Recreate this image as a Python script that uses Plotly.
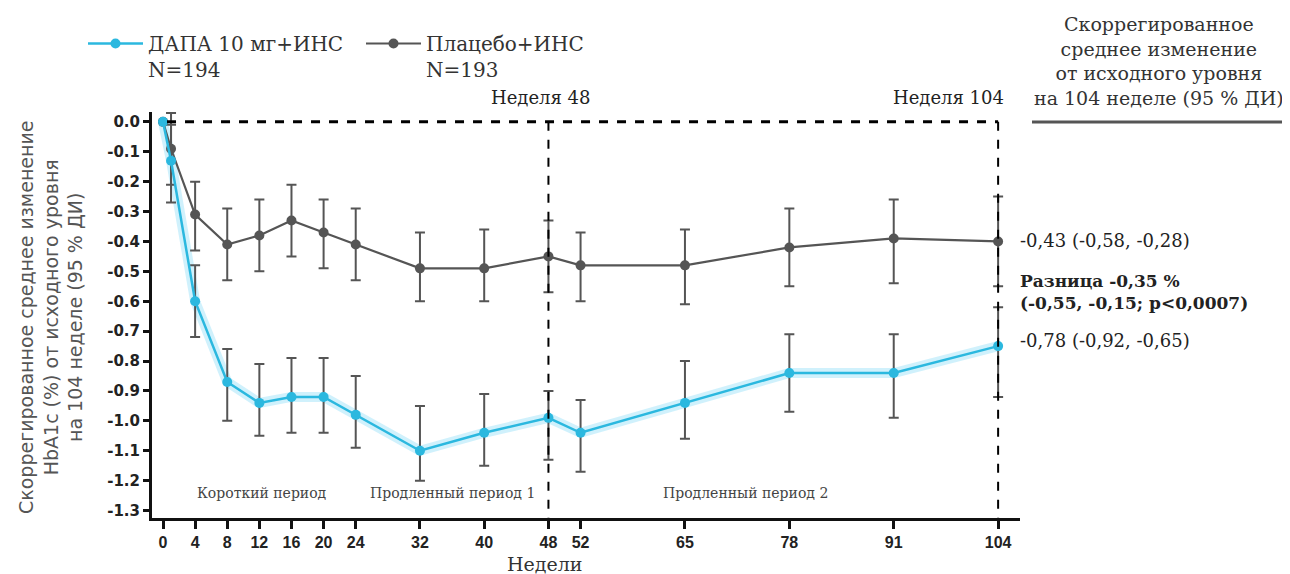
import plotly.graph_objects as go

weeks = [0, 1, 4, 8, 12, 16, 20, 24, 32, 40, 48, 52, 65, 78, 91, 104]
week_ticks = [0, 4, 8, 12, 16, 20, 24, 32, 40, 48, 52, 65, 78, 91, 104]

dapa_mean = [0.0, -0.13, -0.60, -0.87, -0.94, -0.92, -0.92, -0.98, -1.10, -1.04, -0.99, -1.04, -0.94, -0.84, -0.84, -0.75]
dapa_hi = [0.0, -0.01, -0.48, -0.76, -0.81, -0.79, -0.79, -0.85, -0.95, -0.91, -0.90, -0.93, -0.80, -0.71, -0.71, -0.62]
dapa_lo = [0.0, -0.27, -0.72, -1.00, -1.05, -1.04, -1.04, -1.09, -1.20, -1.15, -1.13, -1.17, -1.06, -0.97, -0.99, -0.92]

plac_mean = [0.0, -0.09, -0.31, -0.41, -0.38, -0.33, -0.37, -0.41, -0.49, -0.49, -0.45, -0.48, -0.48, -0.42, -0.39, -0.40]
plac_hi = [0.0, 0.03, -0.20, -0.29, -0.26, -0.21, -0.26, -0.29, -0.37, -0.36, -0.33, -0.37, -0.36, -0.29, -0.26, -0.25]
plac_lo = [0.0, -0.21, -0.43, -0.53, -0.50, -0.45, -0.49, -0.53, -0.60, -0.60, -0.57, -0.60, -0.61, -0.55, -0.54, -0.55]

y_ticks = [0.0, -0.1, -0.2, -0.3, -0.4, -0.5, -0.6, -0.7, -0.8, -0.9, -1.0, -1.1, -1.2, -1.3]
y_ticktext = ["0.0", "-0.1", "-0.2", "-0.3", "-0.4", "-0.5", "-0.6", "-0.7", "-0.8", "-0.9", "-1.0", "-1.1", "-1.2", "-1.3"]

series_names = ["ДАПА 10 мг+ИНС<br>N=194", "Плацебо+ИНС<br>N=193"]
period_labels = ["Короткий период", "Продленный период 1", "Продленный период 2"]
period_x = [12.3, 36.0, 72.5]

CYAN = "#2bb8df"
GRAY = "#555555"
SERIF = "DejaVu Serif"
SANS = "DejaVu Sans"

fig = go.Figure()

# halo behind the dapagliflozin line
fig.add_trace(go.Scatter(x=weeks, y=dapa_mean, mode="lines",
                         line=dict(color="rgba(120,215,245,0.35)", width=10),
                         showlegend=False, hoverinfo="skip"))

fig.add_trace(go.Scatter(
    x=weeks, y=plac_mean, mode="lines+markers", name=series_names[1],
    line=dict(color=GRAY, width=2.2),
    marker=dict(color=GRAY, size=10, symbol="circle"),
    error_y=dict(type="data", symmetric=False,
                 array=[h - m for h, m in zip(plac_hi, plac_mean)],
                 arrayminus=[m - l for m, l in zip(plac_mean, plac_lo)],
                 color=GRAY, thickness=2, width=5),
    legendrank=2,
))

fig.add_trace(go.Scatter(
    x=weeks, y=dapa_mean, mode="lines+markers", name=series_names[0],
    line=dict(color=CYAN, width=2.5),
    marker=dict(color=CYAN, size=10, symbol="circle"),
    error_y=dict(type="data", symmetric=False,
                 array=[h - m for h, m in zip(dapa_hi, dapa_mean)],
                 arrayminus=[m - l for m, l in zip(dapa_mean, dapa_lo)],
                 color=GRAY, thickness=2, width=5),
    legendrank=1,
))

YMIN, YMAX = -1.325, 0.033

# dashed reference box
fig.add_shape(type="line", x0=0.5, x1=104, y0=0, y1=0, xref="x", yref="y",
              line=dict(color="black", width=3, dash="dash"))
fig.add_shape(type="line", x0=48, x1=48, y0=0, y1=YMIN, xref="x", yref="y",
              line=dict(color="black", width=2, dash="dash"))
fig.add_shape(type="line", x0=104, x1=104, y0=0, y1=YMIN, xref="x", yref="y",
              line=dict(color="black", width=2, dash="dash"))

OFF = 8  # page body margin
W, H = 1282, 566
ML, MR, MT, MB = 144, 270, 104, 56
PW, PH = W - ML - MR, H - MT - MB


def px(xp):
    return (xp - OFF - ML) / PW


def py(yp):
    return (H - MB - (yp - OFF)) / PH


def note(x, y, text, size, color="#222", family=SERIF, **kw):
    fig.add_annotation(x=x, y=y, xref="paper", yref="paper", text=text, showarrow=False,
                       xanchor=kw.pop("xanchor", "center"), yanchor=kw.pop("yanchor", "middle"),
                       font=dict(family=family, size=size, color=color), **kw)


# period labels
for t, xv in zip(period_labels, period_x):
    fig.add_annotation(x=xv, y=-1.24, xref="x", yref="y", text=t, showarrow=False,
                       xanchor="center", yanchor="middle",
                       font=dict(family=SERIF, size=14, color="#444"))

note(px(541), py(98), "Неделя 48", 18)
note(px(948), py(98), "Неделя 104", 18)

# right-hand results
note(px(1018), py(240), "-0,43 (-0,58, -0,28)", 18, xanchor="left")
note(px(1018), py(292), "<b>Разница -0,35 %<br>(-0,55, -0,15; p<0,0007)</b>", 17,
     xanchor="left", align="left")
note(px(1018), py(340), "-0,78 (-0,92, -0,65)", 18, xanchor="left")

note(px(1159), py(61), "Скоррегированное<br>среднее изменение<br>от исходного уровня<br>на 104 неделе (95 % ДИ)",
     19, color="#333", align="center")
fig.add_shape(type="line", x0=px(1032), x1=px(1286), y0=py(122), y1=py(122),
              xref="paper", yref="paper", line=dict(color="#555", width=3))

note(px(50), py(318), "Скоррегированное среднее изменение<br>HbA1c (%) от исходного уровня<br>на 104 неделе (95 % ДИ)",
     19, color="#555", family=SANS, textangle=-90, align="center")

note(px(545), py(564), "Недели", 19, color="#333")

fig.update_layout(
    width=W, height=H,
    margin=dict(l=ML, r=MR, t=MT, b=MB),
    paper_bgcolor="white", plot_bgcolor="white",
    showlegend=True,
    legend=dict(orientation="h", xref="container", yref="container",
                x=75 / W, y=1 - 16 / H, xanchor="left", yanchor="top",
                font=dict(family=SERIF, size=20, color="#333"),
                valign="top", bgcolor="rgba(0,0,0,0)", traceorder="normal",
                itemwidth=55, entrywidth=208),
    xaxis=dict(range=[-1.37, -1.37 + PW / 8.03], tickvals=week_ticks, automargin=False,
               ticks="outside", ticklen=8, tickwidth=3, tickcolor="#111",
               showline=True, linecolor="#111", linewidth=3,
               showgrid=False, zeroline=False, ticklabelstandoff=0,
               tickfont=dict(family="Liberation Sans", size=16, color="#222", weight="bold")),
    yaxis=dict(range=[YMIN, YMAX], tickvals=y_ticks, ticktext=y_ticktext, automargin=False,
               ticks="outside", ticklen=6, tickwidth=3, tickcolor="#111",
               showline=True, linecolor="#111", linewidth=3,
               showgrid=False, zeroline=False,
               tickfont=dict(family=SANS, size=15, color="#222", weight="bold")),
)

fig.write_html("out.html")
